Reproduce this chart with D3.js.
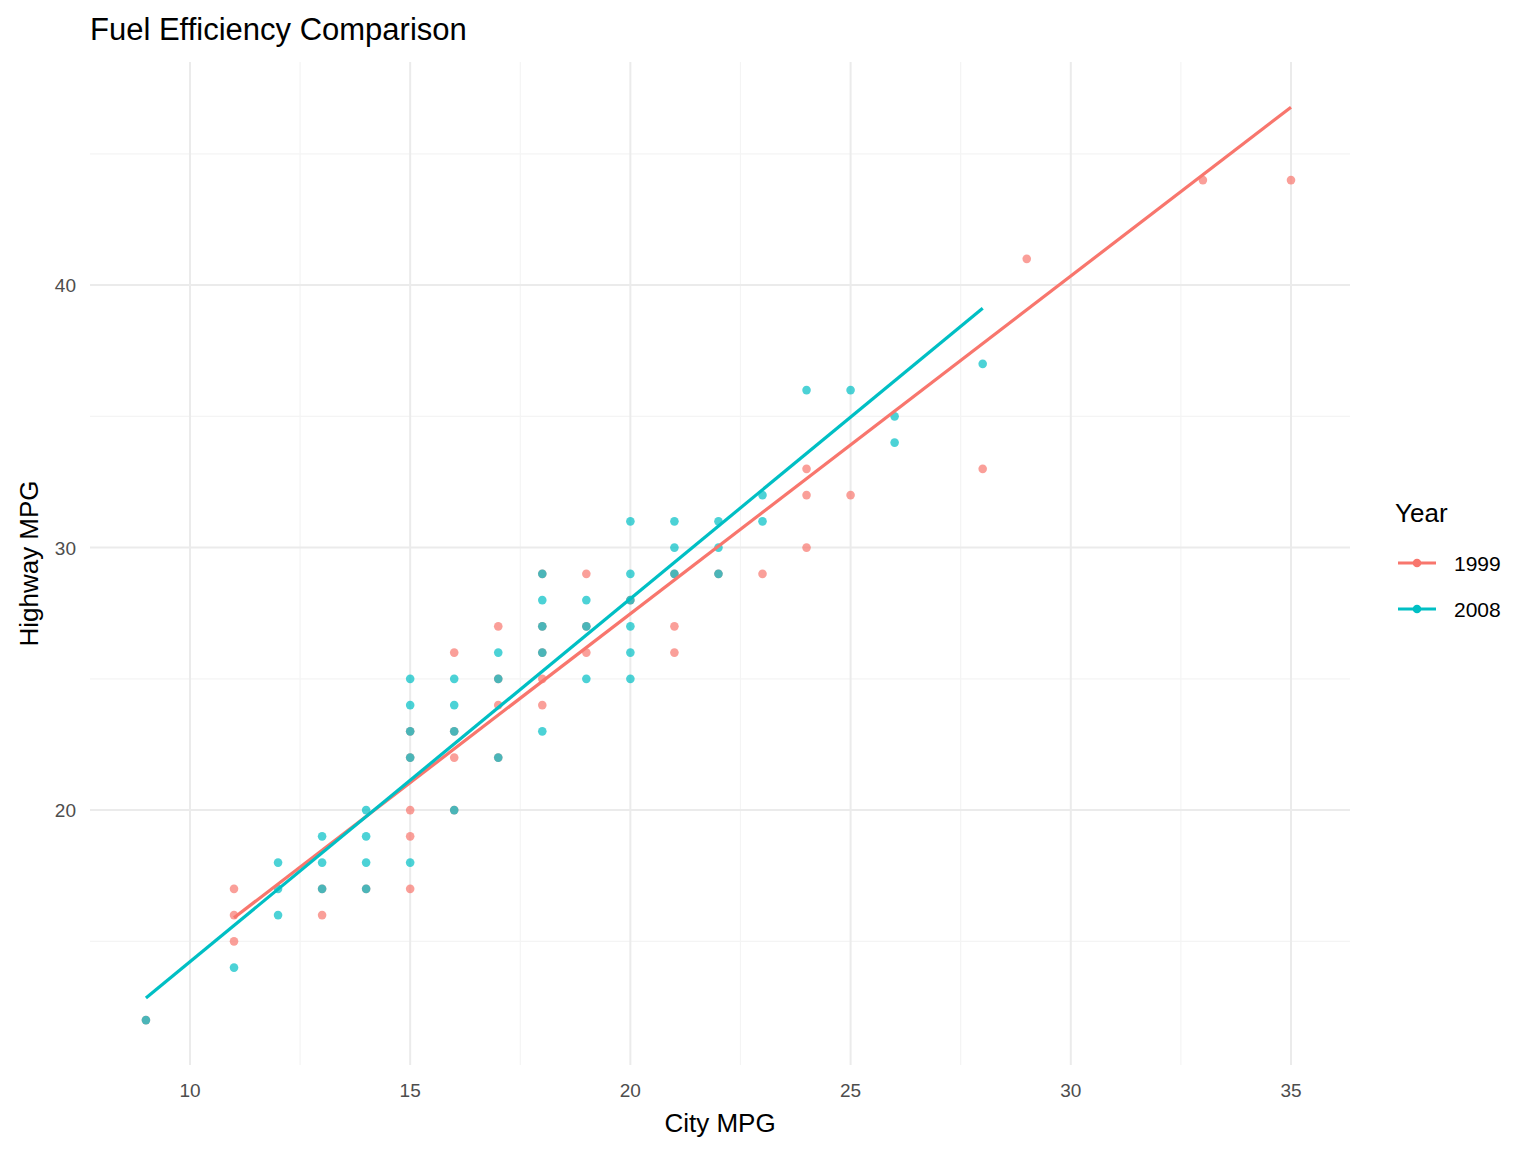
<!DOCTYPE html>
<html><head><meta charset="utf-8">
<script src="https://cdn.jsdelivr.net/npm/d3@7"></script>
<style>body{margin:0;background:#fff;font-family:Arial,"Liberation Sans",sans-serif}</style>
</head><body><svg id="c" width="1536" height="1152"></svg>
<script>
var years = ["1999", "2008"];
var colors = ["#F8766D", "#00BFC4"];
var pts1999 = [[9,12],[11,17],[11,16],[11,15],[13,16],[13,17],[14,17],[15,17],[15,19],[15,20],[15,22],[15,23],
  [16,26],[16,23],[16,22],[16,20],[17,27],[17,24],[17,22],[17,25],[18,29],[18,27],[18,26],[18,25],[18,24],
  [19,29],[19,27],[19,26],[20,28],[21,27],[21,26],[21,29],[22,29],[23,29],[24,33],[24,32],[24,30],[25,32],
  [28,33],[29,41],[33,44],[35,44]];
var pts2008 = [[9,12],[11,14],[12,16],[12,17],[12,18],[13,17],[13,18],[13,19],[14,17],[14,18],[14,19],[14,20],
  [15,18],[15,22],[15,23],[15,24],[15,25],[16,20],[16,23],[16,24],[16,25],[17,22],[17,25],[17,26],[18,23],
  [18,26],[18,27],[18,28],[18,29],[19,25],[19,27],[19,28],[20,25],[20,26],[20,27],[20,28],[20,29],[20,31],
  [21,29],[21,30],[21,31],[22,29],[22,30],[22,31],[23,31],[23,32],[24,36],[25,36],[26,34],[26,35],[28,37]];
var fit1999 = [[11,15.9],[35,46.78]];
var fit2008 = [[9,12.84],[28,39.12]];
var xTicks = [10,15,20,25,30,35], yTicks = [20,30,40];

var svg = d3.select("#c");
var L=90, R=1350, T=62, B=1065;
var x = d3.scaleLinear().domain([7.73,36.34]).range([L,R]);
var y = d3.scaleLinear().domain([10.29,48.5]).range([B,T]);

// grid
[12.5,17.5,22.5,27.5,32.5].forEach(function(v){
  svg.append("line").attr("x1",x(v)).attr("x2",x(v)).attr("y1",T).attr("y2",B).attr("stroke","#f4f4f4").attr("stroke-width",1.2);
});
[15,25,35,45].forEach(function(v){
  svg.append("line").attr("y1",y(v)).attr("y2",y(v)).attr("x1",L).attr("x2",R).attr("stroke","#f4f4f4").attr("stroke-width",1.2);
});
xTicks.forEach(function(v){
  svg.append("line").attr("x1",x(v)).attr("x2",x(v)).attr("y1",T).attr("y2",B).attr("stroke","#ebebeb").attr("stroke-width",2);
  svg.append("text").attr("x",x(v)).attr("y",1097).attr("text-anchor","middle").attr("font-size",19).attr("fill","#4d4d4d").text(v);
});
yTicks.forEach(function(v){
  svg.append("line").attr("y1",y(v)).attr("y2",y(v)).attr("x1",L).attr("x2",R).attr("stroke","#ebebeb").attr("stroke-width",2);
  svg.append("text").attr("x",76).attr("y",y(v)+7).attr("text-anchor","end").attr("font-size",19).attr("fill","#4d4d4d").text(v);
});

// points
[pts1999, pts2008].forEach(function(pts,i){
  svg.append("g").selectAll("circle").data(pts).join("circle")
    .attr("cx",function(d){return x(d[0]);}).attr("cy",function(d){return y(d[1]);})
    .attr("r",4.3).attr("fill",colors[i]).attr("fill-opacity",0.7);
});
// fits
var line = d3.line().x(function(d){return x(d[0]);}).y(function(d){return y(d[1]);});
[fit1999, fit2008].forEach(function(f,i){
  svg.append("path").attr("d",line(f)).attr("stroke",colors[i]).attr("stroke-width",3.2).attr("fill","none");
});

// titles
svg.append("text").attr("x",90).attr("y",40).attr("font-size",31).attr("fill","#000").text("Fuel Efficiency Comparison");
svg.append("text").attr("x",(L+R)/2).attr("y",1132).attr("text-anchor","middle").attr("font-size",26).text("City MPG");
svg.append("text").attr("transform","translate(38,"+((T+B)/2)+") rotate(-90)").attr("text-anchor","middle").attr("font-size",26).text("Highway MPG");

// legend
svg.append("text").attr("x",1395).attr("y",522).attr("font-size",26).text("Year");
years.forEach(function(yr,i){
  var yy = 563 + i*46;
  svg.append("line").attr("x1",1398).attr("x2",1436).attr("y1",yy).attr("y2",yy).attr("stroke",colors[i]).attr("stroke-width",3.2);
  svg.append("circle").attr("cx",1417).attr("cy",yy).attr("r",4.3).attr("fill",colors[i]);
  svg.append("text").attr("x",1454).attr("y",yy+8).attr("font-size",21).text(yr);
});
</script></body></html>
